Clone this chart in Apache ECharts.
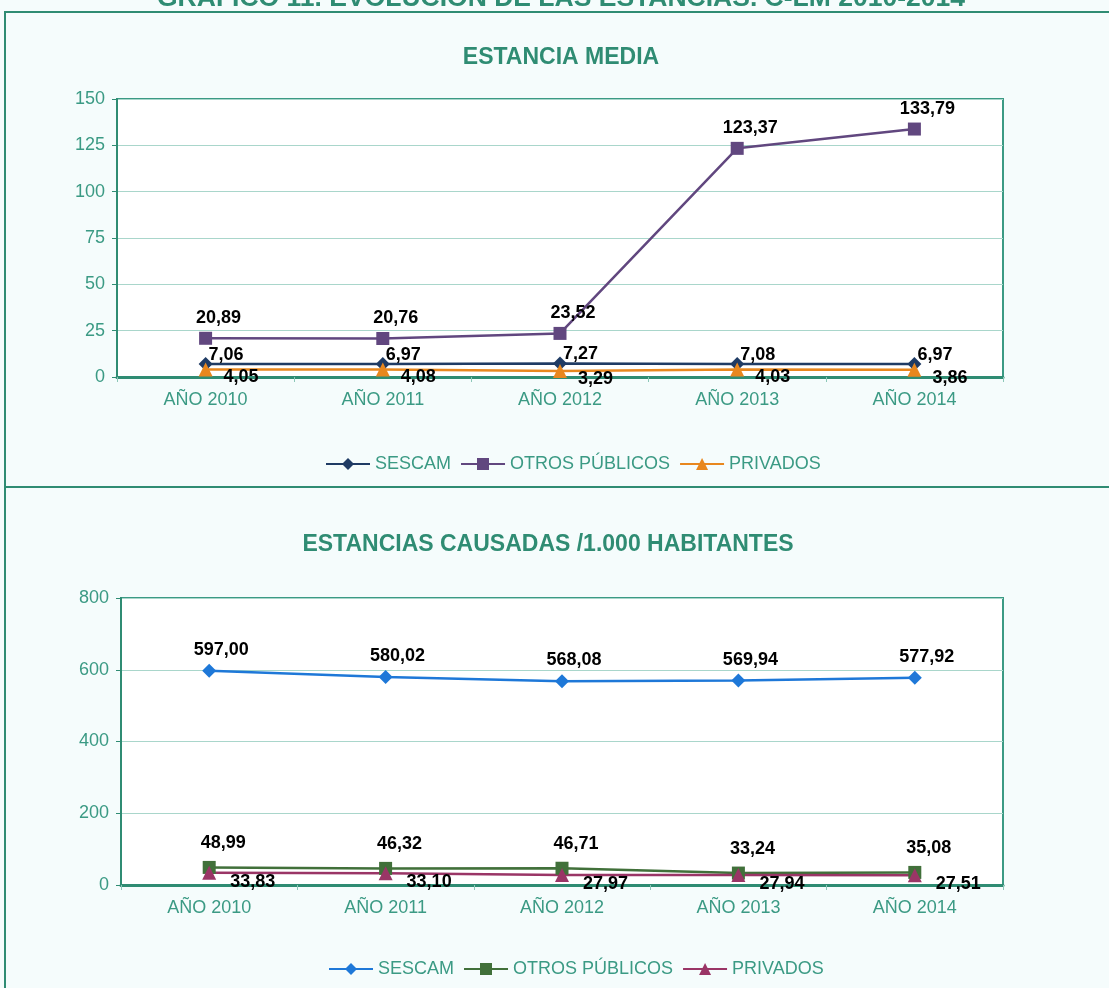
<!DOCTYPE html>
<html>
<head>
<meta charset="utf-8">
<script src="https://cdn.jsdelivr.net/npm/echarts@6/dist/echarts.min.js"></script>
<style>
  html, body { margin: 0; padding: 0; background: #f5fcfc; }
  #estancias_chart { width: 1109px; height: 988px; }
</style>
</head>
<body>
<div id="estancias_chart"></div>
<script>
// datos
var years = ["AÑO 2010", "AÑO 2011", "AÑO 2012", "AÑO 2013", "AÑO 2014"];
var seriesNames = ["SESCAM", "OTROS PÚBLICOS", "PRIVADOS"];

// estancia media
var mediaSescam = [7.06, 6.97, 7.27, 7.08, 6.97];
var mediaOtros = [20.89, 20.76, 23.52, 123.37, 133.79];
var mediaPrivados = [4.05, 4.08, 3.29, 4.03, 3.86];

// estancias causadas / 1.000 habitantes
var causadasSescam = [597.0, 580.02, 568.08, 569.94, 577.92];
var causadasOtros = [48.99, 46.32, 46.71, 33.24, 35.08];
var causadasPrivados = [33.83, 33.1, 27.97, 27.94, 27.51];

var GREEN = "#2f8c73";
var AXIS_TEXT = "#3b9a84";
var FONT = "Liberation Sans, Arial, sans-serif";

function fmt(p) {
  return p.value.toFixed(2).replace(".", ",");
}

function lineSerie(name, data, idx, color, symbol, size, pos, offset) {
  return {
    name: name,
    type: "line",
    xAxisIndex: idx,
    yAxisIndex: idx,
    data: data,
    symbol: symbol,
    symbolSize: size,
    lineStyle: { color: color, width: 2.5 },
    itemStyle: { color: color },
    label: {
      show: true,
      position: pos,
      offset: offset,
      formatter: fmt,
      color: "#000",
      fontWeight: "bold",
      fontSize: 18,
      fontFamily: FONT,
    },
    z: 3,
  };
}

function xAxis(idx) {
  return {
    type: "category",
    gridIndex: idx,
    data: years,
    axisLine: { lineStyle: { color: GREEN, width: 3 } },
    axisTick: { show: true, length: 5, lineStyle: { color: "#8cc7b8" } },
    axisLabel: { color: AXIS_TEXT, fontSize: 18, fontFamily: FONT, margin: 14 },
    splitLine: { show: false },
  };
}

function yAxis(idx, max, interval) {
  return {
    type: "value",
    gridIndex: idx,
    min: 0,
    max: max,
    interval: interval,
    axisLine: { show: true, lineStyle: { color: GREEN, width: 2 } },
    axisTick: { show: true, length: 5, lineStyle: { color: GREEN } },
    axisLabel: { color: AXIS_TEXT, fontSize: 18, fontFamily: FONT, margin: 12 },
    splitLine: { lineStyle: { color: "#a9d6cb", width: 1 } },
  };
}

function legend(suffix, left, top) {
  return {
    data: seriesNames.map(function (n) { return { name: n + suffix }; }),
    left: left,
    top: top,
    itemWidth: 44,
    itemHeight: 15,
    itemGap: 9,
    selectedMode: false,
    textStyle: { color: AXIS_TEXT, fontSize: 18, fontFamily: FONT },
    formatter: function (n) { return n.trim(); },
  };
}

var chart = echarts.init(document.getElementById("estancias_chart"));
var option = {
  backgroundColor: "#f5fcfc",
  animation: false,
  title: [
    {
      text: "ESTANCIA MEDIA",
      left: 556,
      top: 41,
      textAlign: "center",
      textStyle: { color: GREEN, fontSize: 23, fontWeight: "bold", fontFamily: FONT },
    },
    {
      text: "ESTANCIAS CAUSADAS /1.000 HABITANTES",
      left: 543,
      top: 528,
      textAlign: "center",
      textStyle: { color: GREEN, fontSize: 23, fontWeight: "bold", fontFamily: FONT },
    },
  ],
  graphic: [
    {
      type: "text",
      left: 157,
      top: -15,
      style: {
        text: "GRÁFICO 11. EVOLUCIÓN DE LAS ESTANCIAS. C-LM 2010-2014",
        fill: GREEN,
        font: "bold 26.5px Liberation Sans, Arial, sans-serif",
      },
    },
    {
      type: "polyline",
      shape: { points: [[5, 988], [5, 12], [1109, 12]] },
      style: { stroke: GREEN, lineWidth: 2, fill: null },
    },
    {
      type: "line",
      shape: { x1: 5, y1: 487, x2: 1109, y2: 487 },
      style: { stroke: GREEN, lineWidth: 2 },
    },
  ],
  // segunda leyenda con nombres terminados en espacio para separarla de la primera
  legend: [legend("", 320, 450), legend(" ", 323, 955)],
  grid: [
    {
      left: 117, top: 99, width: 886, height: 278,
      show: true, backgroundColor: "#ffffff", borderColor: "#3b9a84", borderWidth: 2,
    },
    {
      left: 121, top: 598, width: 882, height: 287,
      show: true, backgroundColor: "#ffffff", borderColor: "#3b9a84", borderWidth: 2,
    },
  ],
  xAxis: [xAxis(0), xAxis(1)],
  yAxis: [yAxis(0, 150, 25), yAxis(1, 800, 200)],
  series: [
    lineSerie("SESCAM", mediaSescam, 0, "#1f3b64", "diamond", 14, "right", [-9, -9]),
    lineSerie("OTROS PÚBLICOS", mediaOtros, 0, "#61477f", "rect", 13, "top", [13, 0]),
    lineSerie("PRIVADOS", mediaPrivados, 0, "#e8871e", "triangle", 14, "right", [6, 8]),
    lineSerie("SESCAM ", causadasSescam, 1, "#1e78d8", "diamond", 14, "top", [12, 0]),
    lineSerie("OTROS PÚBLICOS ", causadasOtros, 1, "#41703a", "rect", 13, "top", [14, -4]),
    lineSerie("PRIVADOS ", causadasPrivados, 1, "#9a3566", "triangle", 14, "right", [9, 9]),
  ],
};

chart.setOption(option);
</script>
</body>
</html>
